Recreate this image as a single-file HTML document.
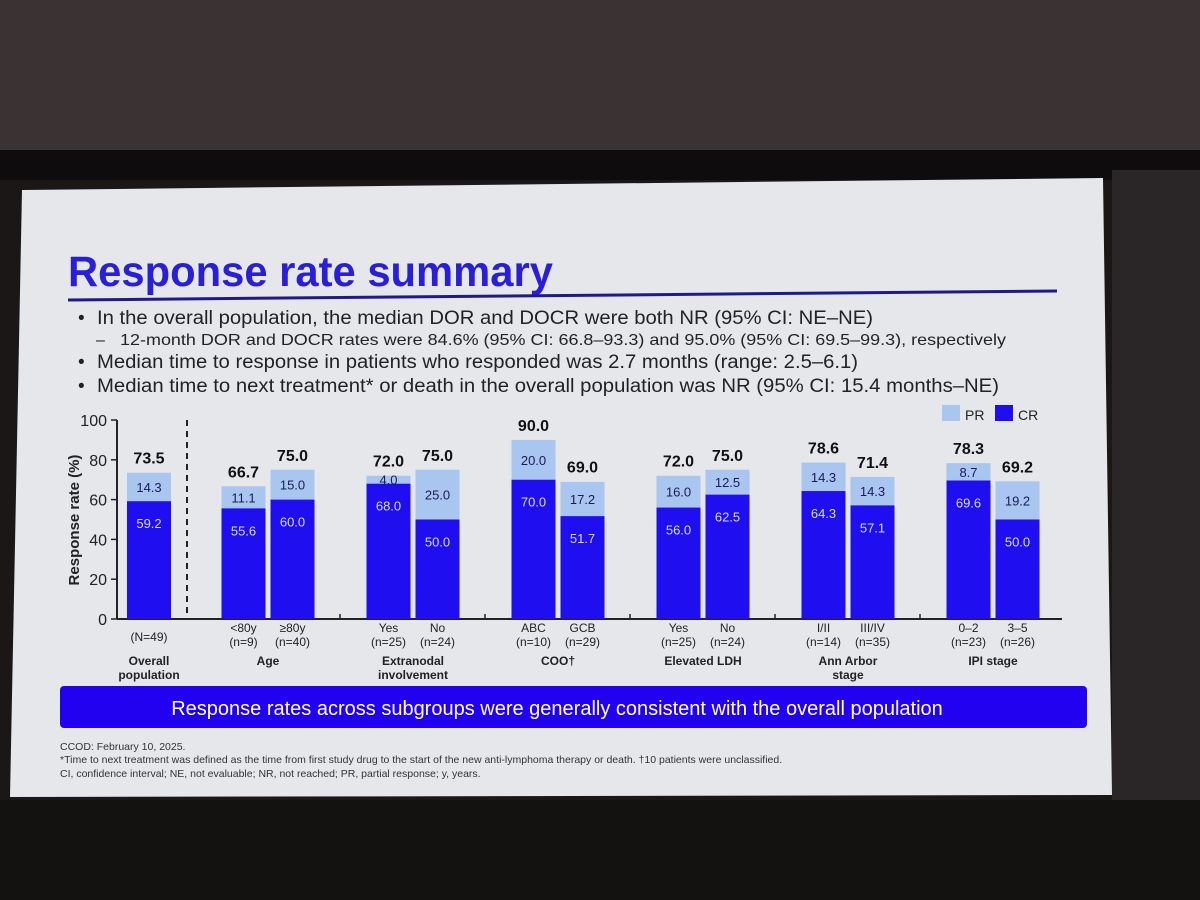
<!DOCTYPE html>
<html><head><meta charset="utf-8"><style>
html,body{margin:0;padding:0;width:1200px;height:900px;overflow:hidden;background:#1b1717}
svg{display:block;font-family:"Liberation Sans",sans-serif}
</style></head><body>
<svg id="s" width="1200" height="900" viewBox="0 0 1200 900">
<rect x="0" y="0" width="1200" height="170" fill="#3a3233"/>
<rect x="0" y="150" width="1200" height="30" fill="#0e0c0c"/>
<rect x="1112" y="170" width="88" height="630" fill="#2a2526"/>
<rect x="0" y="800" width="1200" height="100" fill="#141111"/>
<polygon points="22,190 1103,178 1112,795 10,797" fill="#e5e7eb"/>
<text x="68" y="286" font-size="43" font-weight="bold" fill="#2a1fd8" textLength="485" lengthAdjust="spacingAndGlyphs">Response rate summary</text>
<line x1="68" y1="300" x2="1057" y2="291" stroke="#1f1a8a" stroke-width="3"/>
<g font-size="19" fill="#222">
<text x="78" y="324">•</text><text x="97" y="324" textLength="776" lengthAdjust="spacingAndGlyphs">In the overall population, the median DOR and DOCR were both NR (95% CI: NE–NE)</text>
<text x="96" y="345" font-size="16">–</text><text x="120" y="345" font-size="16" textLength="886" lengthAdjust="spacingAndGlyphs">12-month DOR and DOCR rates were 84.6% (95% CI: 66.8–93.3) and 95.0% (95% CI: 69.5–99.3), respectively</text>
<text x="78" y="368">•</text><text x="97" y="368" textLength="761" lengthAdjust="spacingAndGlyphs">Median time to response in patients who responded was 2.7 months (range: 2.5–6.1)</text>
<text x="78" y="392">•</text><text x="97" y="392" textLength="902" lengthAdjust="spacingAndGlyphs">Median time to next treatment* or death in the overall population was NR (95% CI: 15.4 months–NE)</text>
</g>
<g id="chart"></g>
<rect x="942" y="405" width="18" height="16" fill="#a9c6f0"/>
<text x="965" y="420" font-size="14" fill="#222">PR</text>
<rect x="995" y="405" width="18" height="16" fill="#1f0ff0"/>
<text x="1018" y="420" font-size="14" fill="#222">CR</text>
<rect x="60" y="686" width="1027" height="42" rx="4" fill="#2200f0"/>
<text x="557" y="715" font-size="20" fill="#fff" text-anchor="middle">Response rates across subgroups were generally consistent with the overall population</text>
<g font-size="10.5" fill="#333">
<text x="60" y="750">CCOD: February 10, 2025.</text>
<text x="60" y="763">*Time to next treatment was defined as the time from first study drug to the start of the new anti-lymphoma therapy or death. †10 patients were unclassified.</text>
<text x="60" y="777">CI, confidence interval; NE, not evaluable; NR, not reached; PR, partial response; y, years.</text>
</g>
</svg>
<script>
const categories=["Overall","<80y","≥80y","Yes","No","ABC","GCB","Yes","No","I/II","III/IV","0–2","3–5"];
const nLabels=["(N=49)","(n=9)","(n=40)","(n=25)","(n=24)","(n=10)","(n=29)","(n=25)","(n=24)","(n=14)","(n=35)","(n=23)","(n=26)"];
const groupIdx=[0,1,1,2,2,3,3,4,4,5,5,6,6];
const groups=[["Overall","population"],["Age"],["Extranodal","involvement"],["COO†"],["Elevated LDH"],["Ann Arbor","stage"],["IPI stage"]];
const crValues=[59.2,55.6,60.0,68.0,50.0,70.0,51.7,56.0,62.5,64.3,57.1,69.6,50.0];
const prValues=[14.3,11.1,15.0,4.0,25.0,20.0,17.2,16.0,12.5,14.3,14.3,8.7,19.2];
const totals=[73.5,66.7,75.0,72.0,75.0,90.0,69.0,72.0,75.0,78.6,71.4,78.3,69.2];
const yTicks=[0,20,40,60,80,100];
const NS="http://www.w3.org/2000/svg";
const g=document.getElementById('chart');
const y=v=>619-v*1.99;
const gc=k=>k===0?149:268+(k-1)*145;
function mk(tag,attrs,txt){const e=document.createElementNS(NS,tag);for(const k in attrs)e.setAttribute(k,attrs[k]);if(txt!==undefined)e.textContent=txt;g.appendChild(e);return e;}
function xCenter(i){const k=groupIdx[i];if(k===0)return gc(0);const first=groupIdx.indexOf(k);return gc(k)+(i-first-0.5)*49;}
let e;
e=mk('line',{x1:117,y1:y(100),x2:117,y2:y(0),stroke:'#222','stroke-width':2});


e=mk('line',{x1:117,y1:y(0),x2:1062,y2:y(0),stroke:'#222','stroke-width':2});


e=mk('line',{x1:187,y1:y(100),x2:187,y2:y(0),stroke:'#222','stroke-width':2,'stroke-dasharray':'6,5'});


yTicks.forEach(t=>{
 e=mk('line',{x1:111,y1:y(t),x2:117,y2:y(t),stroke:'#222','stroke-width':1.5});
 
 
 e=mk('text',{x:107,y:y(t)+6,'font-size':16,'text-anchor':'end',fill:'#222'},t);
 
 
});
e=mk('text',{x:0,y:0,'font-size':15,'font-weight':'bold','text-anchor':'middle',fill:'#222',transform:'translate(79,520) rotate(-90)'},'Response rate (%)');


for(let k=1;k<groups.length-1;k++){
 e=mk('line',{x1:gc(k)+72,y1:y(0)-5,x2:gc(k)+72,y2:y(0),stroke:'#222','stroke-width':1.5});
 
 
}
categories.forEach((c,i)=>{
 const cx=xCenter(i),w=44;
 const cr=crValues[i],pr=prValues[i];
 e=mk('rect',{x:cx-w/2,y:y(cr+pr),width:w,height:y(cr)-y(cr+pr),fill:'#a9c6f0'});
 
 
 e=mk('rect',{x:cx-w/2,y:y(cr),width:w,height:y(0)-y(cr),fill:'#1f0ff0'});
 
 
 e=mk('text',{x:cx,y:(y(cr)+y(cr+pr))/2+5,'font-size':13,'text-anchor':'middle',fill:'#1a1a5a'},pr.toFixed(1));
 
 
 e=mk('text',{x:cx,y:y(cr)+27,'font-size':13,'text-anchor':'middle',fill:'#dcdcff'},cr.toFixed(1));
 
 
 e=mk('text',{x:cx,y:y(totals[i])-9,'font-size':16,'font-weight':'bold','text-anchor':'middle',fill:'#111'},totals[i].toFixed(1));
 
 
 if(groupIdx[i]===0){
  e=mk('text',{x:cx,y:641,'font-size':12,'text-anchor':'middle',fill:'#222'},nLabels[i]);
 } else {
  e=mk('text',{x:cx,y:632,'font-size':12,'text-anchor':'middle',fill:'#222'},c);
  
  
  e=mk('text',{x:cx,y:646,'font-size':12,'text-anchor':'middle',fill:'#222'},nLabels[i]);
 }
 
 
});
groups.forEach((lines,k)=>{
 lines.forEach((t,j)=>{
  e=mk('text',{x:gc(k),y:665+j*14,'font-size':12,'font-weight':'bold','text-anchor':'middle',fill:'#222'},t);
  
  
 });
});
</script>
</body></html>
